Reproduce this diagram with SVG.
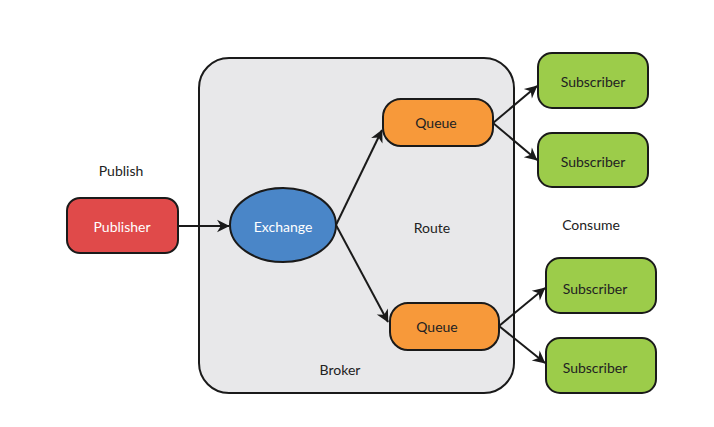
<svg xmlns="http://www.w3.org/2000/svg" width="714" height="427" viewBox="0 0 714 427">
<defs>
<style>
.lbl{font-family:"Lato","Liberation Sans",sans-serif;font-size:14px;fill:#222;text-anchor:middle;dominant-baseline:central}
.wt{fill:#fff}
.box{stroke:#1a1a1a;stroke-width:2}
.conn{stroke:#1a1a1a;stroke-width:2;fill:none;marker-end:url(#ah)}
</style>
<marker id="ah" viewBox="0 0 10 10" refX="9" refY="5" markerWidth="7" markerHeight="7" markerUnits="userSpaceOnUse" orient="auto" overflow="visible">
<path d="M0,0 L10,5 L0,10 L3,5 Z" fill="#1a1a1a" transform="scale(1.8) translate(-4.5,-2.2)"/>
</marker>
</defs>
<rect width="714" height="427" fill="#fff"/>
<g id="broker">
<rect x="199" y="58" width="315" height="335" rx="30" fill="#e8e8ea" class="box"/>
<text x="340" y="369" class="lbl">Broker</text>
</g>
<text x="121" y="170" class="lbl">Publish</text>
<text x="432" y="227" class="lbl">Route</text>
<text x="591" y="224" class="lbl">Consume</text>
<g id="connectors">
<line x1="178" y1="226" x2="229" y2="226" class="conn"/>
<line x1="336" y1="225" x2="382" y2="130" class="conn"/>
<line x1="336" y1="225" x2="388" y2="322" class="conn"/>
<line x1="493" y1="123" x2="537" y2="86" class="conn"/>
<line x1="493" y1="123" x2="537" y2="160" class="conn"/>
<line x1="499" y1="326" x2="545" y2="288" class="conn"/>
<line x1="499" y1="326" x2="545" y2="363" class="conn"/>
</g>
<g id="publisher">
<rect x="67" y="198" width="111" height="55" rx="13" fill="#e04a4a" class="box"/>
<text x="122" y="226" class="lbl wt">Publisher</text>
</g>
<g id="exchange">
<ellipse cx="283" cy="225" rx="53" ry="37" fill="#4a86c8" class="box"/>
<text x="283" y="226" class="lbl wt">Exchange</text>
</g>
<g id="queue1">
<rect x="383" y="99" width="110" height="47" rx="18" fill="#f7993a" class="box"/>
<text x="436" y="122" class="lbl">Queue</text>
</g>
<g id="queue2">
<rect x="390" y="303" width="109" height="47" rx="18" fill="#f7993a" class="box"/>
<text x="437" y="326" class="lbl">Queue</text>
</g>
<g id="sub1">
<rect x="538" y="53" width="110" height="55" rx="14" fill="#9ccc4a" class="box"/>
<text x="593" y="81" class="lbl">Subscriber</text>
</g>
<g id="sub2">
<rect x="538" y="133" width="110" height="54" rx="14" fill="#9ccc4a" class="box"/>
<text x="593" y="161" class="lbl">Subscriber</text>
</g>
<g id="sub3">
<rect x="546" y="258" width="110" height="55" rx="14" fill="#9ccc4a" class="box"/>
<text x="595" y="288" class="lbl">Subscriber</text>
</g>
<g id="sub4">
<rect x="546" y="338" width="110" height="55" rx="14" fill="#9ccc4a" class="box"/>
<text x="595" y="367" class="lbl">Subscriber</text>
</g>
</svg>
